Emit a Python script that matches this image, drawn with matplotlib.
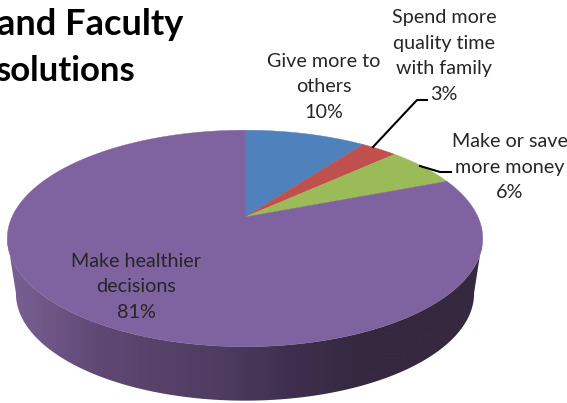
import matplotlib
matplotlib.use('Agg')
import matplotlib.pyplot as plt
import numpy as np
from matplotlib.colors import LinearSegmentedColormap
from matplotlib.patches import Polygon
from matplotlib.transforms import Affine2D

plt.rcParams['font.family'] = ['Lato', 'DejaVu Sans']

labels = ['Give more to\nothers\n10%', 'Spend more\nquality time\nwith family\n3%',
          'Make or save\nmore money\n6%', 'Make healthier\ndecisions\n81%']
values = [10, 3, 6, 81]
colors = ['#4f81bd', '#c0504d', '#9bbb59', '#7f62a0']
label_pos = [(324, 87), (444, 56), (510, 167), (136, 287)]
title_lines = ['and Faculty', 'solutions']

fig = plt.figure(figsize=(5.67, 4.03), dpi=100)
ax = fig.add_axes([0, 0, 1, 1])


# squash the flat pie into the tilted view of the picture
def project(pts, cx=245, cy=217, a=233, b=104, k=0.198):
    u, v = pts[:, 0], pts[:, 1]
    w = 1 + k * v
    return np.column_stack([cx + a * u / w, cy - b * v / w])


# keep only the arc between the widest points of an edge
def widest_arc(edge):
    i, j = np.argmin(edge[:, 0]), np.argmax(edge[:, 0])
    return edge[min(i, j):max(i, j) + 1]


wedges, _ = ax.pie(values, startangle=90, counterclock=False, radius=1)
flat = []
for w in wedges:
    poly = w.get_path().to_polygons(Affine2D().scale(1000), closed_only=False)[0] / 1000
    flat.append(poly)
    w.remove()

# rim: front part of the biggest slice, dropped down and a bit narrower
big = flat[-1]
r = np.hypot(big[:, 0], big[:, 1])
front = big[(r > 0.99) & (big[:, 1] <= 0.05)]
front = front[np.argsort(np.arctan2(front[:, 1], front[:, 0]))]
top_edge = widest_arc(project(front))
low_edge = widest_arc(project(front * 0.965, cy=273, b=107))[::-1]
rim = Polygon(np.vstack([top_edge, low_edge]), closed=True, transform=ax.transData, fc='none', ec='none')
ax.add_patch(rim)

shade = LinearSegmentedColormap.from_list('rim', [(0, '#7a6195'), (0.2, '#5f4773'), (0.45, '#4f3c60'),
                                                  (0.6, '#3f2f4e'), (0.75, '#36283f'), (1, '#35283f')])
img = ax.imshow(np.linspace(0, 1, 256).reshape(1, -1), cmap=shade, extent=(7, 482, 410, 230), aspect='auto')
img.set_clip_path(rim)

for poly, c in zip(flat, colors):
    ax.add_patch(Polygon(project(poly), closed=True, fc=c, ec=c, lw=0.3))

ax.set_aspect('auto')
ax.set_xlim(0, 567)
ax.set_ylim(403, 0)
ax.axis('off')

# leader lines
ax.plot([373, 417, 427], [147, 100, 100], color='black', lw=1.5)
ax.plot([420, 440, 451], [166, 172, 172], color='black', lw=1.5)

for lab, (x, y) in zip(labels, label_pos):
    ax.text(x, y, lab, ha='center', va='center', fontsize=14.2, color='#262626', linespacing=1.6)

ax.text(-3, 35, title_lines[0], ha='left', va='baseline', fontsize=26, fontweight='bold', color='black', clip_on=False)
ax.text(-5, 81, title_lines[1], ha='left', va='baseline', fontsize=25, fontweight='bold', color='black', clip_on=False)

fig.savefig('out.png', dpi=100)
